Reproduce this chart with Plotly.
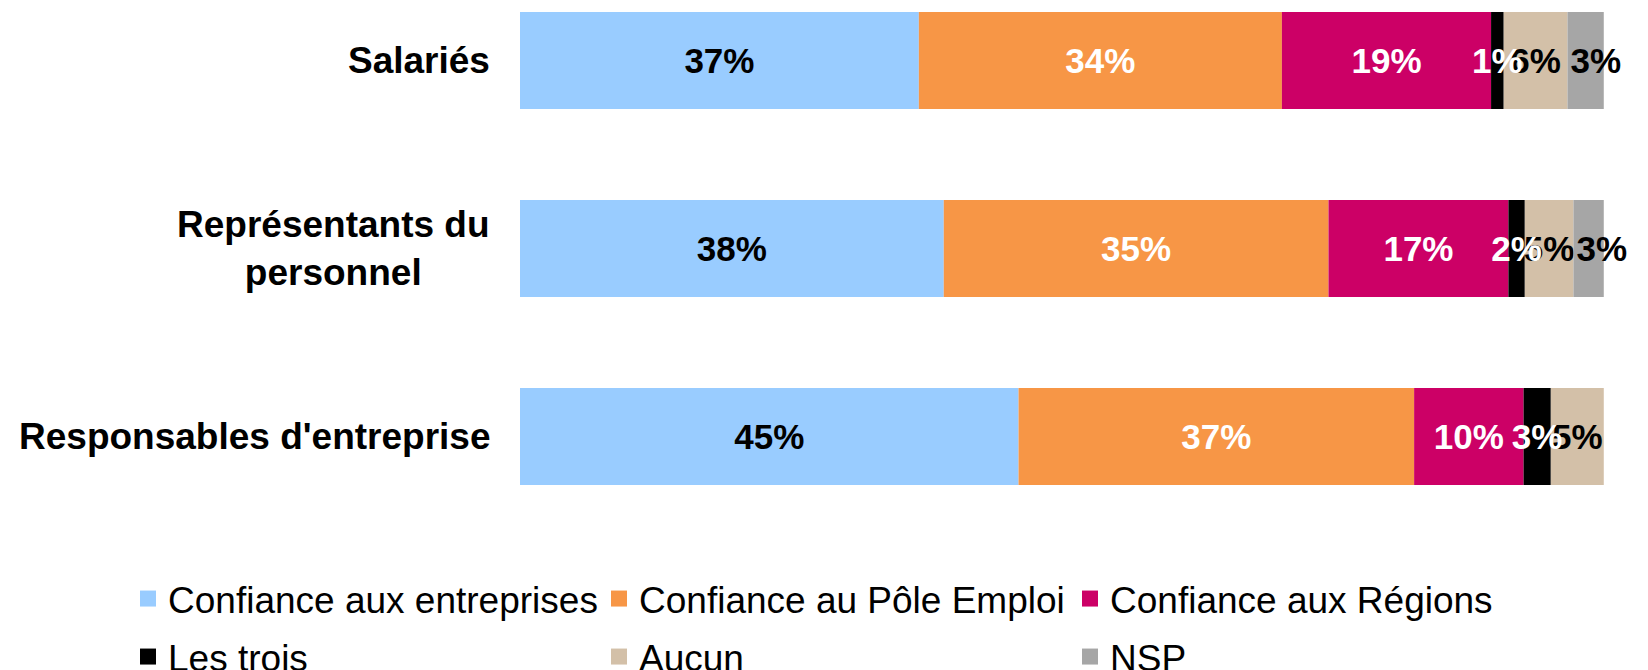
import plotly.graph_objects as go

categories = ["Salariés", "Représentants du<br>personnel", "Responsables d'entreprise"]
series_names = ["Confiance aux entreprises", "Confiance au Pôle Emploi", "Confiance aux Régions",
                "Les trois", "Aucun", "NSP"]
# segment lengths (%)
entreprises = [36.8, 39.1, 46.0]
pole_emploi = [33.5, 35.5, 36.5]
regions = [19.3, 16.6, 10.1]
les_trois = [1.15, 1.5, 2.5]
aucun = [5.9, 4.5, 4.9]
nsp = [3.35, 2.8, 0.0]
# data labels as printed on the chart
lbl_entreprises = ["37%", "38%", "45%"]
lbl_pole_emploi = ["34%", "35%", "37%"]
lbl_regions = ["19%", "17%", "10%"]
lbl_les_trois = ["1%", "2%", "3%"]
lbl_aucun = ["6%", "5%", "5%"]
lbl_nsp = ["3%", "3%", ""]

values = [entreprises, pole_emploi, regions, les_trois, aucun, nsp]
labels = [lbl_entreprises, lbl_pole_emploi, lbl_regions, lbl_les_trois, lbl_aucun, lbl_nsp]
colors = ["#99CCFF", "#F79646", "#CC0066", "#000000", "#D3C0A8", "#A6A6A6"]
text_colors = ["#000000", "#FFFFFF", "#FFFFFF", "#FFFFFF", "#000000", "#000000"]
text_anchor = ["middle", "middle", "middle", "middle", "middle", "start"]
legend_ids = ["legend", "legend", "legend", "legend2", "legend2", "legend2"]
draw_order = [0, 1, 2, 4, 5, 3]  # black segment drawn last so its label stays visible

FONT = "Liberation Sans, Arial, sans-serif"

# cumulative bases for the stacked segments
bases = []
running = [0] * len(categories)
for vals in values:
    bases.append(list(running))
    running = [r + v for r, v in zip(running, vals)]

fig = go.Figure()
for i in draw_order:
    fig.add_trace(go.Bar(
        y=categories, x=values[i], base=bases[i], orientation="h", name=series_names[i],
        marker=dict(color=colors[i], line=dict(width=0)),
        text=labels[i],
        textposition="inside", insidetextanchor=text_anchor[i], constraintext="none",
        textangle=0, cliponaxis=False,
        textfont=dict(family=FONT, size=35, color=text_colors[i], weight="bold"),
        showlegend=False, hoverinfo="skip",
    ))

# legend entries
for name, col, lid in zip(series_names, colors, legend_ids):
    fig.add_trace(go.Scatter(
        x=[None], y=[None], mode="markers", name=name,
        marker=dict(symbol="square", size=16, color=col, line=dict(width=0)),
        legend=lid, showlegend=True,
    ))

# category labels
for cat in categories:
    fig.add_annotation(
        x=0, xref="paper", y=cat, yref="y", xanchor="right", yanchor="middle",
        xshift=-28, text=f"<b>{cat}</b>", showarrow=False, align="center",
        font=dict(family=FONT, size=37, color="#000000"),
    )

legend_common = dict(
    orientation="h", xanchor="left", yanchor="middle", traceorder="normal",
    entrywidth=426, entrywidthmode="pixels",
    font=dict(family=FONT, size=37, color="#000000"),
    bgcolor="rgba(0,0,0,0)", borderwidth=0, itemclick=False, itemdoubleclick=False,
)

fig.update_layout(
    width=1648, height=670,
    margin=dict(l=512, r=52, t=0, b=170, autoexpand=False),
    barmode="overlay", bargap=0.484,
    plot_bgcolor="white", paper_bgcolor="white",
    font=dict(family=FONT, size=36, color="#000000"),
    xaxis=dict(range=[0, 100.02], visible=False, showgrid=False, zeroline=False),
    yaxis=dict(type="category", categoryorder="array", categoryarray=categories,
               range=[2.3803, -0.2793], showticklabels=False,
               showgrid=False, zeroline=False, showline=False, ticks=""),
    legend=dict(x=-0.3616, y=-0.182, **legend_common),
    legend2=dict(x=-0.3616, y=-0.298, **legend_common),
)

fig.write_html("out.html")
